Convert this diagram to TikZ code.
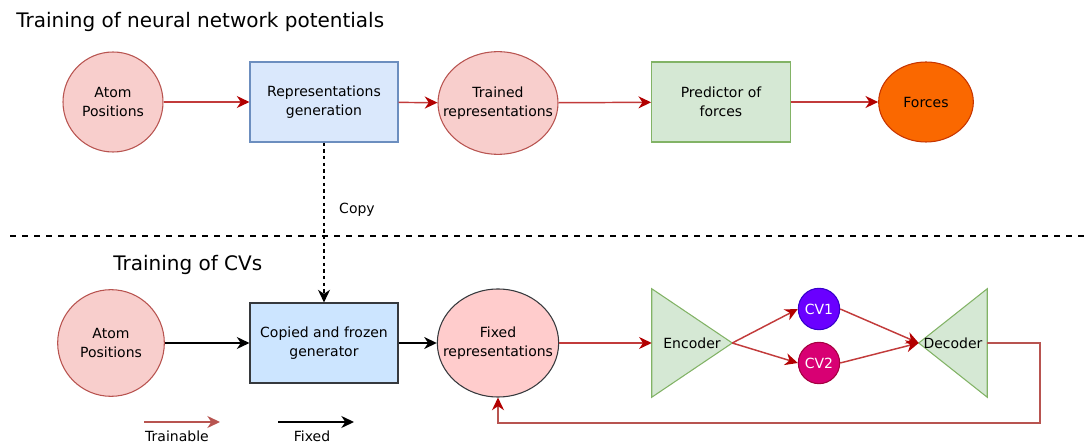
\documentclass[tikz,border=0pt]{standalone}
\usepackage{fontspec}
\setmainfont{DejaVu Sans}
\usetikzlibrary{arrows.meta,shapes.geometric,backgrounds}

\definecolor{pinkfill}{HTML}{F8CECC}
\definecolor{pinkline}{HTML}{B85450}
\definecolor{bluefill}{HTML}{DAE8FC}
\definecolor{blueline}{HTML}{6C8EBF}
\definecolor{greenfill}{HTML}{D5E8D4}
\definecolor{greenline}{HTML}{82B366}
\definecolor{orangefill}{HTML}{FA6800}
\definecolor{orangeline}{HTML}{C73500}
\definecolor{frozenfill}{HTML}{CCE5FF}
\definecolor{fixedfill}{HTML}{FFCCCC}
\definecolor{darkline}{HTML}{36393D}
\definecolor{cvonefill}{HTML}{6A00FF}
\definecolor{cvoneline}{HTML}{3700CC}
\definecolor{cvtwofill}{HTML}{D80073}
\definecolor{cvtwoline}{HTML}{A50040}
\definecolor{trainred}{HTML}{B20000}
\definecolor{trainline}{HTML}{C23B3B}

\tikzset{
	lbl/.style={font=\fontsize{10.5}{14.3}\selectfont, align=center, inner sep=0pt},
	title/.style={font=\fontsize{15}{18}\selectfont, inner sep=0pt, anchor=west},
	pinkball/.style={lbl, circle, draw=pinkline, fill=pinkfill, line width=0.8pt},
	pinkoval/.style={ellipse, draw=pinkline, fill=pinkfill, line width=0.8pt, inner sep=0pt},
	bluebox/.style={lbl, rectangle, draw=blueline, fill=bluefill, line width=0.8pt},
	greenbox/.style={lbl, rectangle, draw=greenline, fill=greenfill, line width=0.8pt},
	cvball/.style={lbl, circle, text=white, line width=0.8pt, minimum size=31pt},
	trihold/.style={lbl, rectangle, minimum height=81pt},
	tri/.style={draw=greenline, fill=greenfill, line width=0.8pt},
	trainarrow/.style={draw=trainline, line width=1.1pt, -{Stealth[length=9.5pt,width=9pt,inset=3pt,color=trainred]}},
	fixarrow/.style={draw=black, line width=1.1pt, -{Stealth[length=9.5pt,width=9pt,inset=3pt]}},
	copyarrow/.style={draw=black, line width=0.9pt, dash pattern=on 2.5pt off 2.5pt, -{Stealth[length=9.5pt,width=9pt,inset=3pt]}},
}

\begin{document}
\begin{tikzpicture}[x=0.75pt,y=-0.75pt]
		%%%%% START %%%%%
		\useasboundingbox (0,0) rectangle (1086,445);
		
		\node[title] (ttop) at (16,22) {Training of neural network potentials};
		\node[title] (tbot) at (113,265) {Training of CVs};
		
		% first stage
		\node[pinkball, minimum size=75pt] (atomA) at (113,102) {Atom\\Positions};
		\node[bluebox, minimum width=111pt, minimum height=60pt] (repr) at (324,102) {Representations\\generation};
		\node[pinkoval, minimum width=90pt, minimum height=77pt, label={[lbl]center:Trained\\representations}] (trained) at (498,103) {};
		\node[ellipse, draw=orangeline, fill=orangefill, line width=0.8pt, minimum width=71pt, minimum height=60pt, lbl] (forces) at (926,102) {Forces};
		\node[greenbox, minimum width=104pt, minimum height=60pt] (pred) at (721,102) {Predictor of\\forces};
		
		\draw[trainarrow] (atomA) -- (repr);
		\draw[trainarrow] (repr) -- (trained);
		\draw[trainarrow] (trained) -- (pred);
		\draw[trainarrow] (pred) -- (forces);
		
		% copy
		\node[lbl] (copy) at (357,210) {Copy};
		\coordinate (sepL) at (10,236);
		\coordinate (sepR) at (1086,236);
		\draw[line width=1.5pt, dash pattern=on 4.5pt off 4.5pt] (sepL) -- (sepR);
		
		% second stage
		\node[pinkball, minimum size=80pt] (atomB) at (111,343) {Atom\\Positions};
		\node[lbl, rectangle, draw=darkline, fill=frozenfill, line width=0.8pt, minimum width=111pt, minimum height=60pt] (frozen) at (324,343) {Copied and frozen\\generator};
		\node[ellipse, draw=darkline, fill=fixedfill, line width=0.8pt, inner sep=0pt, minimum width=91pt, minimum height=81pt, label={[lbl]center:Fixed\\representations}] (fixed) at (498,343) {};
		\node[trihold, minimum width=60pt] (enc) at (692,343) {Encoder};
		\node[cvball, draw=cvoneline, fill=cvonefill] (cvone) at (819,309) {CV1};
		\node[cvball, draw=cvtwoline, fill=cvtwofill] (cvtwo) at (819,363) {CV2};
		\node[trihold, minimum width=51pt] (dec) at (953,343) {Decoder};
		
		\begin{scope}[on background layer]
			\draw[tri] (enc.north west) -- (enc.east) -- (enc.south west) -- cycle;
			\draw[tri] (dec.north east) -- (dec.west) -- (dec.south east) -- cycle;
		\end{scope}
		
		\draw[copyarrow] (repr.south) -- (frozen.north);
		\draw[fixarrow] (atomB) -- (frozen);
		\draw[fixarrow] (frozen) -- (fixed);
		\draw[trainarrow] (fixed.east) -- (enc.west);
		\draw[trainarrow] (enc.east) -- (cvone.west);
		\draw[trainarrow] (enc.east) -- (cvtwo.west);
		\draw[trainarrow] (cvone.east) -- (dec.west);
		\draw[trainarrow] (cvtwo.east) -- (dec.west);
		\coordinate (back) at (1040,423);
		\draw[trainarrow, draw=pinkline] (dec.east) -| (back) -| (fixed.south);
		
		% legend
		\coordinate (trS) at (144,422);
		\coordinate (trE) at (220,422);
		\coordinate (fxS) at (278,422);
		\coordinate (fxE) at (354,422);
		\draw[draw=pinkline, line width=1.1pt, -{Stealth[length=9.5pt,width=9pt,inset=3pt,color=pinkline]}] (trS) -- (trE);
		\draw[fixarrow] (fxS) -- (fxE);
		\node[lbl] (trtxt) at (177,436) {Trainable};
		\node[lbl] (fxtxt) at (312,436) {Fixed};
		
		%%%%% END %%%%%
\end{tikzpicture}
\end{document}
